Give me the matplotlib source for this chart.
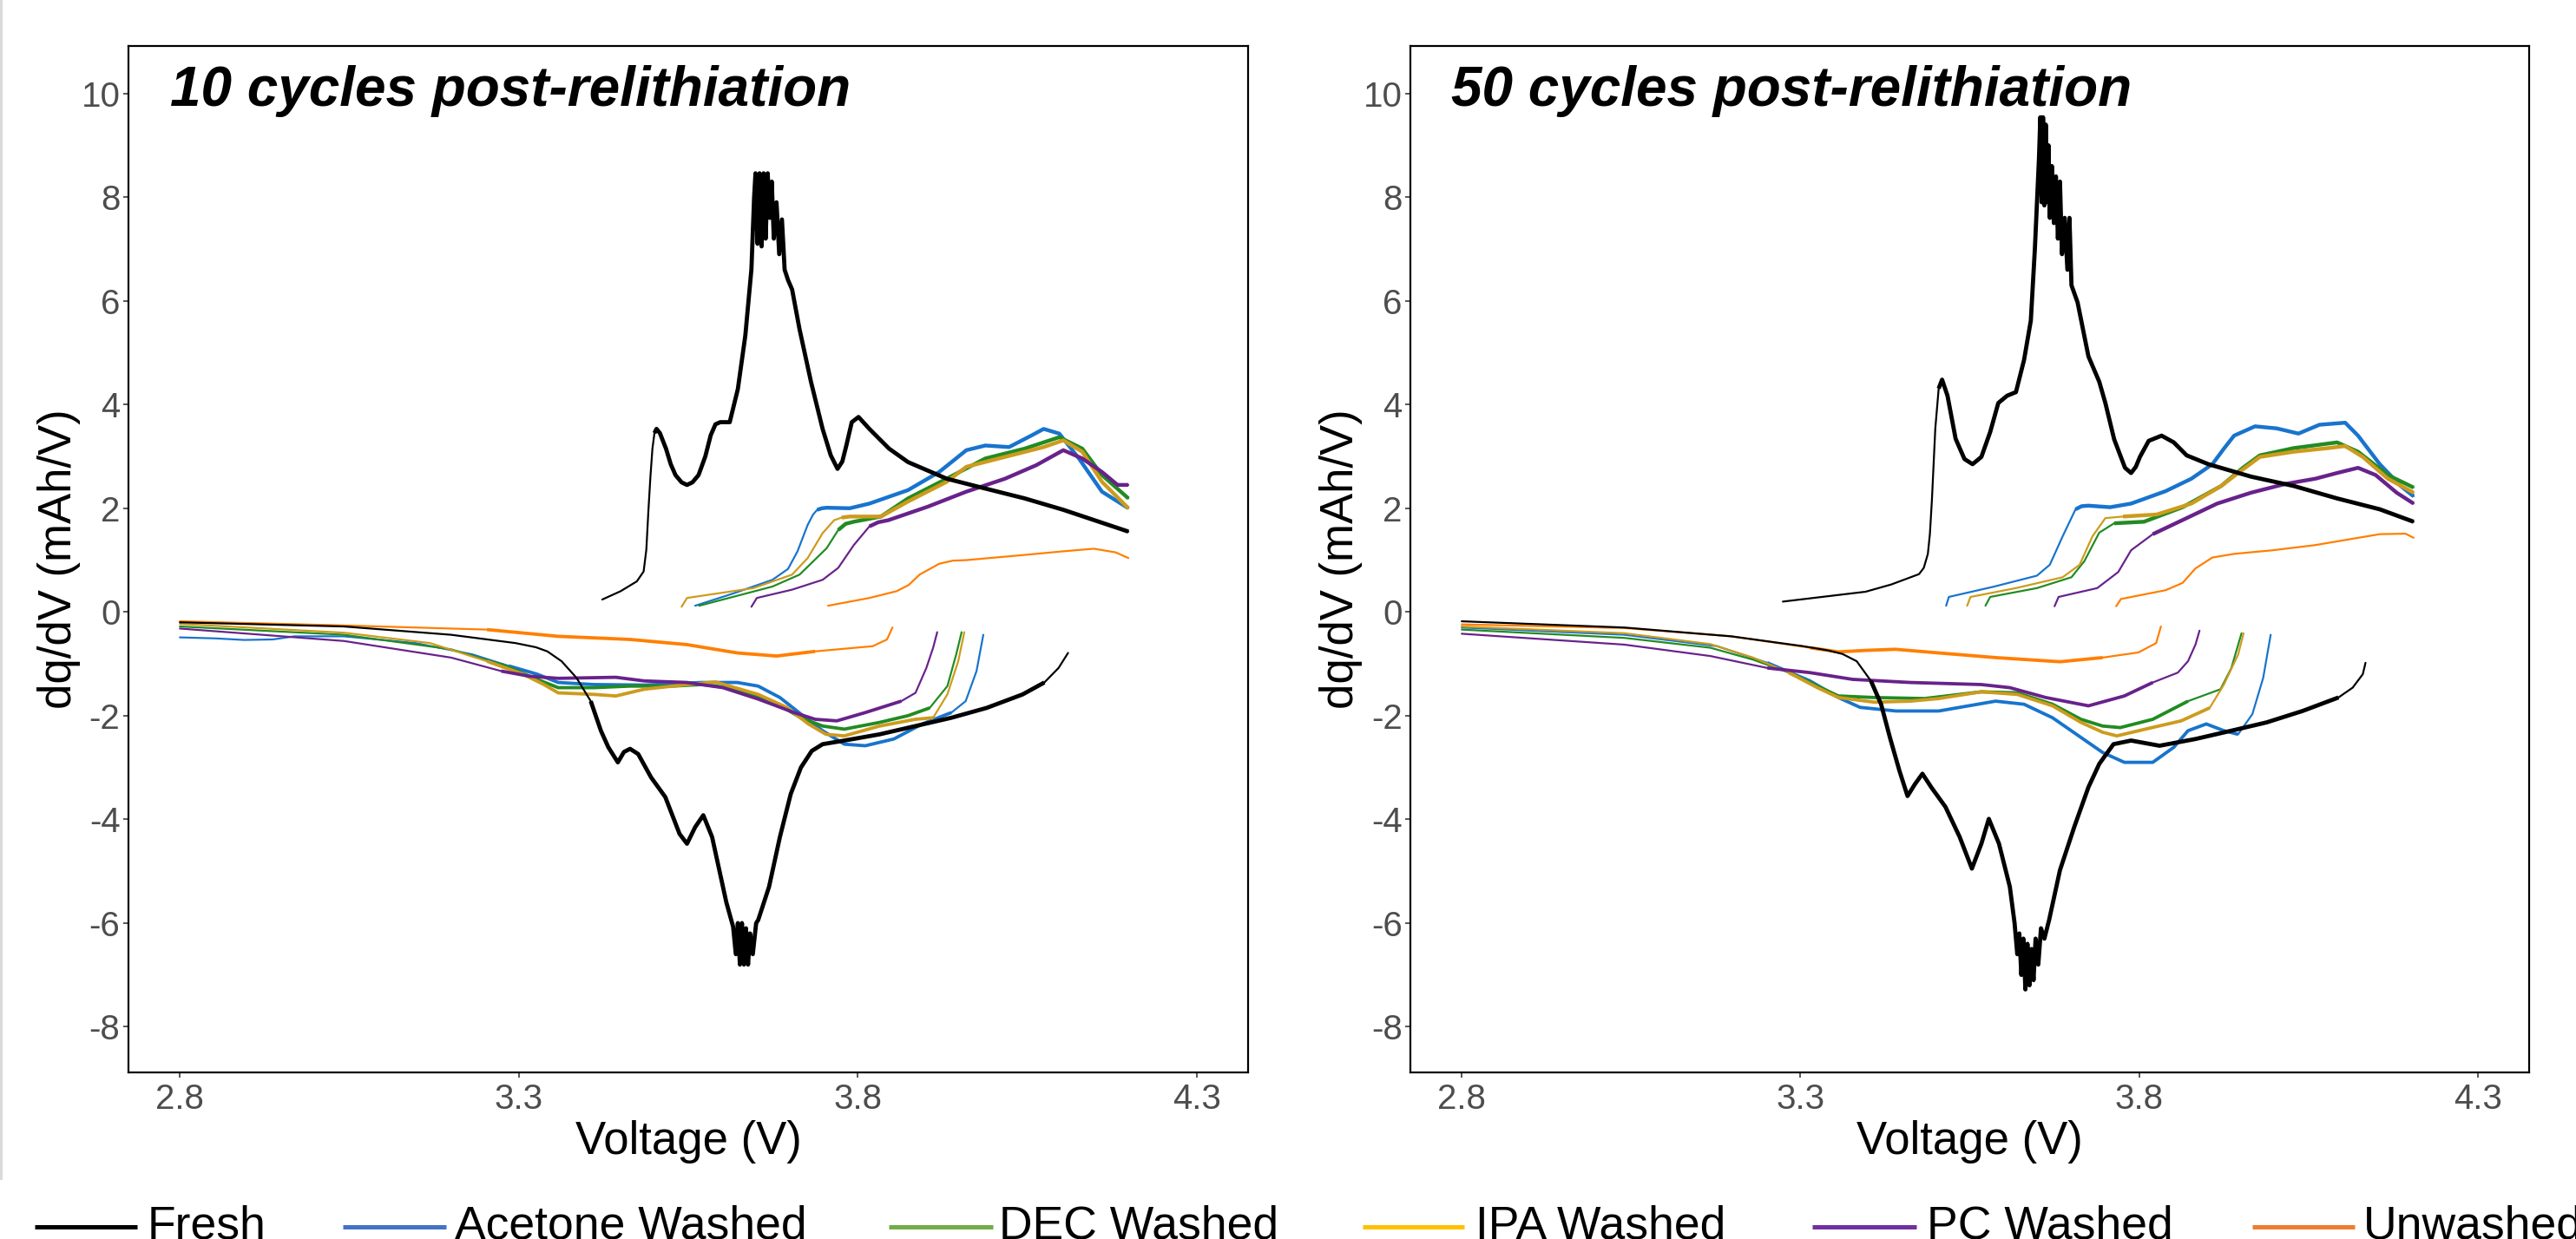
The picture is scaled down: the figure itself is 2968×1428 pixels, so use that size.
import numpy as np
import matplotlib
matplotlib.use("Agg")
import matplotlib.pyplot as plt
from matplotlib.lines import Line2D
from matplotlib.patches import Circle, Rectangle

plt.rcParams['font.family'] = ['Liberation Sans', 'DejaVu Sans']

W, H, DPI = 2968, 1428, 100

# ======================= DATA : 10 cycles post-relithiation =======================
# --- charge branch (positive dq/dV) ---
V10_FRESH_CH = [3.423, 3.450, 3.474, 3.484, 3.488, 3.491, 3.494, 3.497, 3.500, 3.503, 3.508,
                3.517, 3.524, 3.531, 3.540, 3.548, 3.556, 3.565, 3.575, 3.583, 3.590,
                3.597, 3.611, 3.623, 3.634, 3.643, 3.647, 3.649, 3.652, 3.655, 3.658, 3.661,
                3.664, 3.667, 3.670, 3.673, 3.676, 3.680, 3.684, 3.688, 3.692, 3.697, 3.703,
                3.714, 3.731, 3.748, 3.760, 3.770, 3.777, 3.783, 3.791, 3.801, 3.817, 3.846,
                3.874, 3.931, 3.988, 4.046, 4.103, 4.199]
Q10_FRESH_CH = [0.24, 0.40, 0.59, 0.78, 1.20, 1.94, 2.60, 3.15, 3.45, 3.53, 3.45,
                3.15, 2.85, 2.64, 2.50, 2.45, 2.50, 2.64, 3.00, 3.41, 3.62,
                3.66, 3.66, 4.30, 5.33, 6.61, 8.00, 8.46, 7.10, 8.46, 7.05, 8.46,
                7.20, 8.46, 7.60, 8.30, 7.20, 7.90, 6.90, 7.57, 6.60, 6.40, 6.22,
                5.45, 4.43, 3.53, 3.02, 2.76, 2.90, 3.21, 3.66, 3.76, 3.53, 3.15,
                2.89, 2.57, 2.38, 2.19, 1.97, 1.55]
V10_ACE_CH = [3.560, 3.617, 3.674, 3.697, 3.711, 3.726, 3.734, 3.740, 3.747, 3.754, 3.788,
              3.817, 3.874, 3.920, 3.960, 3.988, 4.023, 4.057, 4.074, 4.097, 4.126, 4.160,
              4.199]
Q10_ACE_CH = [0.12, 0.36, 0.62, 0.83, 1.17, 1.68, 1.88, 1.97, 2.00, 2.01, 2.00,
              2.09, 2.35, 2.70, 3.12, 3.21, 3.18, 3.41, 3.53, 3.44, 2.96, 2.32,
              2.00]
V10_DEC_CH = [3.566, 3.674, 3.714, 3.754, 3.771, 3.782, 3.794, 3.834, 3.874, 3.931, 3.988,
              4.046, 4.097, 4.131, 4.160, 4.199]
Q10_DEC_CH = [0.12, 0.49, 0.72, 1.23, 1.58, 1.70, 1.74, 1.84, 2.19, 2.57, 2.96,
              3.15, 3.37, 3.15, 2.64, 2.19]
V10_IPA_CH = [3.540, 3.548, 3.646, 3.703, 3.726, 3.748, 3.765, 3.776, 3.788, 3.834, 3.874,
              3.931, 3.960, 4.017, 4.074, 4.103, 4.131, 4.160, 4.199]
Q10_IPA_CH = [0.10, 0.27, 0.46, 0.72, 1.04, 1.52, 1.77, 1.82, 1.84, 1.84, 2.13,
              2.51, 2.80, 2.99, 3.18, 3.31, 3.09, 2.51, 2.00]
V10_PC_CH = [3.643, 3.651, 3.703, 3.748, 3.771, 3.794, 3.817, 3.830, 3.845, 3.903, 3.960,
             4.017, 4.063, 4.103, 4.131, 4.160, 4.183, 4.199]
Q10_PC_CH = [0.10, 0.27, 0.43, 0.62, 0.85, 1.29, 1.65, 1.73, 1.77, 2.03, 2.32,
             2.57, 2.83, 3.12, 2.96, 2.70, 2.45, 2.45]
V10_UNW_CH = [3.756, 3.817, 3.857, 3.875, 3.891, 3.920, 3.940, 3.960, 4.046, 4.103, 4.148,
              4.180, 4.199]
Q10_UNW_CH = [0.12, 0.27, 0.40, 0.52, 0.72, 0.93, 0.99, 1.00, 1.10, 1.17, 1.22,
              1.15, 1.04]

# --- discharge branch (negative dq/dV) ---
V10_FRESH_DC = [2.800, 3.042, 3.200, 3.295, 3.325, 3.342, 3.363, 3.385, 3.406, 3.421, 3.432,
                3.446, 3.455, 3.464, 3.476, 3.495, 3.516, 3.537, 3.548, 3.560, 3.572, 3.585,
                3.601, 3.606, 3.616, 3.620, 3.623, 3.626, 3.629, 3.632, 3.635, 3.638, 3.641,
                3.645, 3.650, 3.653, 3.669, 3.685, 3.701, 3.716, 3.732, 3.748, 3.780, 3.832,
                3.885, 3.938, 3.990, 4.043, 4.075, 4.096, 4.110]
Q10_FRESH_DC = [-0.20, -0.28, -0.44, -0.60, -0.68, -0.76, -0.95, -1.27, -1.72, -2.29, -2.61,
                -2.90, -2.70, -2.64, -2.74, -3.19, -3.57, -4.28, -4.47, -4.15, -3.92, -4.34,
                -5.30, -5.60, -6.07, -6.60, -6.00, -6.80, -6.00, -6.80, -6.10, -6.80, -6.20,
                -6.60, -6.00, -5.94, -5.30, -4.34, -3.51, -3.00, -2.68, -2.55, -2.48, -2.36,
                -2.20, -2.04, -1.85, -1.59, -1.36, -1.08, -0.79]
V10_ACE_DC = [2.800, 2.853, 2.895, 2.937, 2.969, 3.042, 3.148, 3.232, 3.285, 3.327, 3.358,
              3.411, 3.485, 3.569, 3.622, 3.653, 3.685, 3.716, 3.748, 3.780, 3.811, 3.853,
              3.895, 3.938, 3.959, 3.975, 3.985]
Q10_ACE_DC = [-0.49, -0.51, -0.54, -0.53, -0.47, -0.47, -0.60, -0.82, -1.04, -1.20, -1.36,
              -1.40, -1.41, -1.36, -1.36, -1.43, -1.65, -1.97, -2.29, -2.55, -2.58, -2.45,
              -2.16, -1.94, -1.72, -1.14, -0.44]
V10_DEC_DC = [2.800, 3.042, 3.200, 3.274, 3.327, 3.358, 3.411, 3.464, 3.527, 3.569, 3.611,
              3.674, 3.716, 3.748, 3.780, 3.832, 3.874, 3.906, 3.932, 3.945, 3.953]
Q10_DEC_DC = [-0.28, -0.44, -0.72, -1.01, -1.30, -1.46, -1.46, -1.43, -1.43, -1.40, -1.46,
              -1.72, -2.04, -2.20, -2.26, -2.13, -2.00, -1.85, -1.43, -0.82, -0.39]
V10_IPA_DC = [2.800, 3.042, 3.169, 3.253, 3.306, 3.337, 3.358, 3.411, 3.443, 3.485, 3.548,
              3.590, 3.611, 3.653, 3.695, 3.727, 3.753, 3.780, 3.832, 3.885, 3.911, 3.932,
              3.948, 3.957]
Q10_IPA_DC = [-0.23, -0.40, -0.60, -0.95, -1.20, -1.40, -1.56, -1.59, -1.62, -1.49, -1.40,
              -1.35, -1.43, -1.59, -1.84, -2.16, -2.36, -2.39, -2.20, -2.07, -2.04, -1.59,
              -0.95, -0.39]
V10_PC_DC = [2.800, 3.042, 3.200, 3.274, 3.316, 3.358, 3.443, 3.485, 3.548, 3.601, 3.653,
             3.706, 3.737, 3.769, 3.811, 3.864, 3.885, 3.901, 3.911, 3.917]
Q10_PC_DC = [-0.32, -0.56, -0.88, -1.14, -1.24, -1.28, -1.26, -1.33, -1.36, -1.46, -1.68,
             -1.94, -2.07, -2.10, -1.94, -1.72, -1.56, -1.08, -0.69, -0.39]
V10_UNW_DC = [2.800, 3.042, 3.253, 3.358, 3.464, 3.548, 3.622, 3.680, 3.737, 3.822, 3.843,
              3.851]
Q10_UNW_DC = [-0.18, -0.26, -0.34, -0.47, -0.53, -0.63, -0.79, -0.85, -0.76, -0.66, -0.53,
              -0.30]

# ======================= DATA : 50 cycles post-relithiation =======================
V50_FRESH_CH = [3.274, 3.396, 3.434, 3.475, 3.482, 3.488, 3.491, 3.494, 3.499, 3.504, 3.509,
                3.517, 3.529, 3.542, 3.554, 3.567, 3.580, 3.592, 3.605, 3.618, 3.630, 3.640,
                3.646, 3.652, 3.654, 3.656, 3.658, 3.660, 3.662, 3.664, 3.666, 3.668, 3.671,
                3.674, 3.677, 3.680, 3.683, 3.686, 3.690, 3.694, 3.697, 3.700, 3.709, 3.725,
                3.741, 3.750, 3.763, 3.779, 3.788, 3.795, 3.801, 3.814, 3.833, 3.851, 3.870,
                3.902, 3.965, 4.028, 4.092, 4.155, 4.205]
Q50_FRESH_CH = [0.20, 0.39, 0.53, 0.73, 0.85, 1.12, 1.50, 2.16, 3.54, 4.31, 4.48,
                4.17, 3.34, 2.95, 2.85, 2.99, 3.47, 4.03, 4.17, 4.24, 4.86, 5.62,
                7.01, 8.74, 9.54, 7.90, 9.54, 7.84, 9.40, 7.90, 9.00, 7.60, 8.60,
                7.50, 8.40, 7.20, 8.30, 6.90, 7.60, 6.60, 7.60, 6.30, 5.97, 4.93,
                4.44, 4.03, 3.33, 2.78, 2.68, 2.80, 2.99, 3.30, 3.40, 3.27, 3.02,
                2.85, 2.61, 2.43, 2.19, 1.98, 1.74]
V50_ACE_CH = [3.515, 3.519, 3.586, 3.649, 3.668, 3.687, 3.706, 3.715, 3.725, 3.757, 3.788,
              3.839, 3.877, 3.908, 3.925, 3.940, 3.971, 4.003, 4.035, 4.066, 4.104, 4.123,
              4.155, 4.186, 4.205]
Q50_ACE_CH = [0.12, 0.29, 0.49, 0.70, 0.91, 1.46, 1.98, 2.04, 2.05, 2.02, 2.09,
              2.33, 2.57, 2.85, 3.15, 3.40, 3.58, 3.54, 3.44, 3.61, 3.65, 3.40,
              2.85, 2.43, 2.23]
V50_DEC_CH = [3.573, 3.580, 3.649, 3.700, 3.719, 3.741, 3.763, 3.807, 3.864, 3.921, 3.953,
              3.978, 4.028, 4.092, 4.123, 4.167, 4.205]
Q50_DEC_CH = [0.12, 0.29, 0.46, 0.67, 0.98, 1.53, 1.71, 1.74, 2.02, 2.43, 2.78,
              3.02, 3.16, 3.27, 3.09, 2.64, 2.40]
V50_IPA_CH = [3.546, 3.551, 3.618, 3.687, 3.712, 3.731, 3.750, 3.776, 3.826, 3.877, 3.921,
              3.946, 3.978, 4.028, 4.079, 4.104, 4.130, 4.167, 4.205]
Q50_IPA_CH = [0.12, 0.29, 0.46, 0.67, 0.91, 1.46, 1.81, 1.84, 1.88, 2.09, 2.43,
              2.68, 2.99, 3.09, 3.16, 3.20, 2.99, 2.57, 2.30]
V50_PC_CH = [3.675, 3.681, 3.738, 3.769, 3.788, 3.820, 3.870, 3.915, 3.965, 4.016, 4.060,
             4.092, 4.123, 4.149, 4.180, 4.205]
Q50_PC_CH = [0.11, 0.29, 0.46, 0.77, 1.19, 1.50, 1.81, 2.09, 2.30, 2.47, 2.57,
             2.68, 2.78, 2.64, 2.30, 2.09]
V50_UNW_CH = [3.766, 3.773, 3.839, 3.864, 3.883, 3.908, 3.940, 3.997, 4.060, 4.123, 4.155,
              4.193, 4.205]
Q50_UNW_CH = [0.11, 0.25, 0.42, 0.56, 0.84, 1.05, 1.12, 1.19, 1.29, 1.43, 1.50,
              1.51, 1.43]

V50_FRESH_DC = [2.800, 3.040, 3.198, 3.304, 3.340, 3.362, 3.383, 3.404, 3.419, 3.432, 3.446,
                3.458, 3.469, 3.480, 3.493, 3.514, 3.535, 3.553, 3.567, 3.578, 3.593, 3.609,
                3.616, 3.620, 3.623, 3.626, 3.629, 3.632, 3.635, 3.638, 3.641, 3.644, 3.647,
                3.651, 3.655, 3.660, 3.667, 3.683, 3.704, 3.725, 3.741, 3.762, 3.788, 3.830,
                3.883, 3.936, 3.988, 4.041, 4.094, 4.115, 4.130, 4.134]
Q50_FRESH_DC = [-0.18, -0.30, -0.47, -0.66, -0.74, -0.81, -0.95, -1.33, -1.78, -2.42, -3.06,
                -3.55, -3.32, -3.12, -3.38, -3.76, -4.34, -4.95, -4.47, -3.99, -4.47, -5.30,
                -6.00, -6.60, -6.20, -7.00, -6.30, -7.28, -6.40, -7.20, -6.50, -7.10, -6.30,
                -6.80, -6.10, -6.30, -5.94, -4.98, -4.15, -3.38, -2.93, -2.55, -2.48, -2.58,
                -2.45, -2.29, -2.13, -1.91, -1.65, -1.46, -1.20, -0.98]
V50_ACE_DC = [2.800, 3.040, 3.177, 3.251, 3.314, 3.356, 3.388, 3.441, 3.504, 3.588, 3.630,
              3.672, 3.714, 3.746, 3.778, 3.820, 3.851, 3.872, 3.899, 3.925, 3.946, 3.967,
              3.983, 3.994]
Q50_ACE_DC = [-0.30, -0.44, -0.66, -0.98, -1.33, -1.65, -1.84, -1.91, -1.91, -1.72, -1.78,
              -2.04, -2.42, -2.71, -2.90, -2.90, -2.61, -2.29, -2.16, -2.29, -2.36, -1.97,
              -1.27, -0.44]
V50_DEC_DC = [2.800, 3.040, 3.167, 3.230, 3.283, 3.325, 3.356, 3.409, 3.483, 3.567, 3.620,
              3.672, 3.714, 3.746, 3.772, 3.820, 3.872, 3.920, 3.936, 3.951]
Q50_DEC_DC = [-0.34, -0.50, -0.69, -0.92, -1.17, -1.43, -1.62, -1.65, -1.67, -1.54, -1.56,
              -1.78, -2.07, -2.20, -2.23, -2.07, -1.72, -1.49, -1.08, -0.41]
V50_IPA_DC = [2.800, 3.040, 3.167, 3.230, 3.283, 3.325, 3.356, 3.409, 3.462, 3.504, 3.567,
              3.620, 3.672, 3.714, 3.746, 3.767, 3.809, 3.862, 3.904, 3.925, 3.946, 3.954]
Q50_IPA_DC = [-0.28, -0.41, -0.62, -0.88, -1.17, -1.46, -1.65, -1.74, -1.72, -1.67, -1.54,
              -1.59, -1.81, -2.13, -2.32, -2.39, -2.26, -2.10, -1.85, -1.40, -0.82, -0.41]
V50_PC_DC = [2.800, 3.040, 3.167, 3.251, 3.314, 3.377, 3.462, 3.567, 3.609, 3.662, 3.725,
             3.778, 3.820, 3.857, 3.872, 3.883, 3.889]
Q50_PC_DC = [-0.42, -0.63, -0.85, -1.08, -1.17, -1.30, -1.36, -1.40, -1.46, -1.65, -1.81,
             -1.62, -1.36, -1.17, -0.95, -0.63, -0.36]
V50_UNW_DC = [2.800, 3.040, 3.198, 3.314, 3.356, 3.398, 3.440, 3.504, 3.588, 3.683, 3.746,
              3.799, 3.825, 3.832]
Q50_UNW_DC = [-0.24, -0.31, -0.47, -0.69, -0.77, -0.74, -0.72, -0.79, -0.88, -0.96, -0.88,
              -0.78, -0.60, -0.28]

SERIES = ['Fresh', 'Acetone Washed', 'DEC Washed', 'IPA Washed', 'PC Washed', 'Unwashed']
X_TICKS = [2.8, 3.3, 3.8, 4.3]
Y_TICKS = [-8, -6, -4, -2, 0, 2, 4, 6, 8, 10]
PANEL_TITLES = ['10 cycles post-relithiation', '50 cycles post-relithiation']

# ======================= STYLE =======================
LINE_COLORS = ['#000000', '#1874CD', '#228B22', '#CD9B1D', '#68228B', '#FF7F00']
LEGEND_COLORS = ['#000000', '#4472C4', '#70AD47', '#FFC000', '#7030A0', '#ED7D31']

PX = 72.0 / DPI  # points per pixel


def draw(ax, v, q, color, lo, hi, thin=2.0, thick=4.2, z=2):
    v = np.asarray(v, float)
    q = np.asarray(q, float)
    ax.plot(v, q, color=color, lw=thin * PX, solid_joinstyle='round',
            solid_capstyle='round', zorder=z)
    m = (v >= lo) & (v <= hi)
    if m.sum() > 1:
        ax.plot(v[m], q[m], color=color, lw=thick * PX, solid_joinstyle='round',
                solid_capstyle='butt', zorder=z)


fig = plt.figure(figsize=(W / DPI, H / DPI), dpi=DPI)
fig.patch.set_facecolor('white')


def make_axes(x0, x1, y0=53, y1=1236):
    return fig.add_axes([x0 / W, 1 - y1 / H, (x1 - x0) / W, (y1 - y0) / H])


ax10 = make_axes(148, 1438)
ax50 = make_axes(1625, 2914)

panel_data = [
    (ax10,
     [(V10_FRESH_CH, Q10_FRESH_CH, V10_FRESH_DC, Q10_FRESH_DC),
      (V10_ACE_CH, Q10_ACE_CH, V10_ACE_DC, Q10_ACE_DC),
      (V10_DEC_CH, Q10_DEC_CH, V10_DEC_DC, Q10_DEC_DC),
      (V10_IPA_CH, Q10_IPA_CH, V10_IPA_DC, Q10_IPA_DC),
      (V10_PC_CH, Q10_PC_CH, V10_PC_DC, Q10_PC_DC),
      (V10_UNW_CH, Q10_UNW_CH, V10_UNW_DC, Q10_UNW_DC)],
     [3.74, 3.765, 3.771, 3.80, 4.5]),
    (ax50,
     [(V50_FRESH_CH, Q50_FRESH_CH, V50_FRESH_DC, Q50_FRESH_DC),
      (V50_ACE_CH, Q50_ACE_CH, V50_ACE_DC, Q50_ACE_DC),
      (V50_DEC_CH, Q50_DEC_CH, V50_DEC_DC, Q50_DEC_DC),
      (V50_IPA_CH, Q50_IPA_CH, V50_IPA_DC, Q50_IPA_DC),
      (V50_PC_CH, Q50_PC_CH, V50_PC_DC, Q50_PC_DC),
      (V50_UNW_CH, Q50_UNW_CH, V50_UNW_DC, Q50_UNW_DC)],
     [3.70, 3.745, 3.760, 3.80, 4.5]),
]

for ax, series, onsets in panel_data:
    for i in [1, 2, 3, 4, 5]:
        vc, qc, vd, qd = series[i]
        col = LINE_COLORS[i]
        draw(ax, vc, qc, col, onsets[i - 1], 9, thin=2.2, thick=4.4, z=2 + i * 0.1)
        draw(ax, vd, qd, col, 3.25, vd[-1] - 0.035, thin=2.2, thick=3.8, z=2 + i * 0.1)
    vc, qc, vd, qd = series[0]
    draw(ax, vc, qc, '#000000', 3.50, 9, thin=2.2, thick=4.8, z=3)
    draw(ax, vd, qd, '#000000', 3.40, vd[-1] - 0.03, thin=2.2, thick=4.8, z=3)

for ax, title, tx in [(ax10, PANEL_TITLES[0], 196), (ax50, PANEL_TITLES[1], 1672)]:
    ax.set_xlim(2.7242, 4.3755)
    ax.set_ylim(-8.88, 10.915)
    ax.set_xticks(X_TICKS)
    ax.set_xticklabels([f'{t:.1f}' for t in X_TICKS])
    ax.set_yticks(Y_TICKS)
    ax.set_yticklabels([str(t) for t in Y_TICKS])
    ax.tick_params(axis='both', labelsize=29, labelcolor='#4D4D4D', color='#333333',
                   length=6 * PX, width=1.6 * PX)
    ax.tick_params(axis='y', pad=3.5 * PX)
    ax.tick_params(axis='x', pad=6 * PX)
    for s in ax.spines.values():
        s.set_linewidth(2.2 * PX)
        s.set_color('black')
    ax.set_facecolor('white')
    fig.text(tx / W, 1 - 122 / H, title, fontsize=46, fontweight='bold', style='italic',
             ha='left', va='baseline', color='black')
    x0p, x1p = ax.get_position().x0 * W, ax.get_position().x1 * W
    fig.text((x0p + x1p) / 2 / W, 1 - 1330 / H, 'Voltage (V)', fontsize=38,
             ha='center', va='baseline', color='black')
    fig.text((x0p - 80) / W, 1 - 644 / H, 'dq/dV (mAh/V)', fontsize=38, rotation=90,
             ha='center', va='center', color='black')

# ---------------- legend (bottom, cropped as in the source) ----------------
LEG_LINE_X = [(40, 158), (395, 514), (1024, 1144), (1570, 1687), (2088, 2208), (2595, 2713)]
LEG_TEXT_X = [170, 524, 1151, 1700, 2220, 2723]
for name, col, (a, b), tx in zip(SERIES, LEGEND_COLORS, LEG_LINE_X, LEG_TEXT_X):
    fig.add_artist(Line2D([a / W, b / W], [1 - 1414 / H] * 2, transform=fig.transFigure,
                          color=col, lw=5 * PX, solid_capstyle='butt'))
    fig.text(tx / W, 1 - 1428 / H, name, fontsize=38.5, ha='left', va='baseline',
             color='black')

# ---------------- cropped slide artefacts ----------------
fig.add_artist(Rectangle((0, 1 - 1360 / H), 3 / W, 1360 / H, transform=fig.transFigure,
                         facecolor='#DADADA', edgecolor='none'))
fig.add_artist(Circle((1323 / W, 1 + 8 / H), 12 / W, transform=fig.transFigure,
                      facecolor='#70AD47', edgecolor='none'))

fig.savefig('out.png', dpi=DPI, facecolor='white')
